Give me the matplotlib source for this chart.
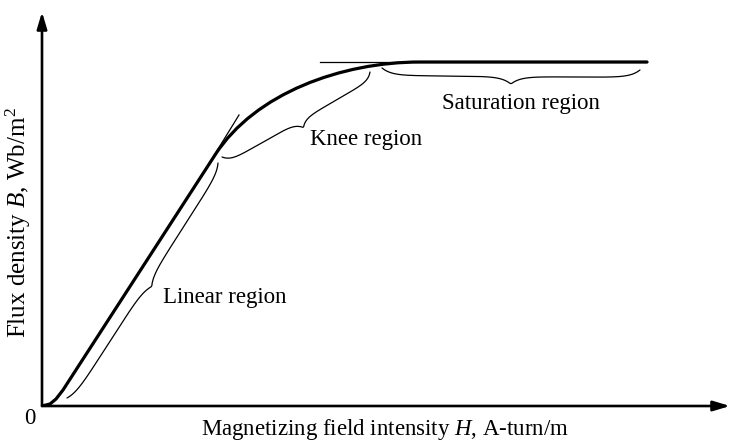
import numpy as np
import matplotlib
matplotlib.use("Agg")
import matplotlib.pyplot as plt
from matplotlib.path import Path
from matplotlib.patches import PathPatch

plt.rcParams["font.family"] = ["Liberation Serif", "DejaVu Serif"]
plt.rcParams["mathtext.fontset"] = "custom"
plt.rcParams["mathtext.rm"] = "Liberation Serif"
plt.rcParams["mathtext.it"] = "Liberation Serif:italic"

# B-H curve (arbitrary units, 1 unit ~ 1 px)
# toe + linear part
H_lin = [0, 8, 14, 21, 173]
B_lin = [0, 2, 7, 16, 251]
# knee as a cubic bezier: start, two control points, end
H_knee = [173, 213, 300, 378]
B_knee = [251, 313, 344, 344]
# saturation
H_sat = [378, 605]
B_sat = [344, 344]

# thin guide lines
tangent_H = [160, 197]
tangent_B = [231, 291]
asym_H = [278, 605]
asym_B = [344, 344]

# braces
regions = ["Linear region", "Knee region", "Saturation region"]
brace_start = [(25, 8), (180, 249), (340, 338)]
brace_end = [(176, 243), (328, 334), (598, 336)]
brace_depth = [11, 15, 15]
label_xy = [(121, 108), (268, 266), (479, 302)]
label_ha = ["left", "left", "center"]

H_MAX, B_MAX = 688, 394
FS = 16.5


def brace(ax, p0, p1, depth, k=14, lw=0.9):
    p0 = np.asarray(p0, float)
    p1 = np.asarray(p1, float)
    L = np.hypot(*(p1 - p0))
    d = (p1 - p0) / L
    n = np.array([d[1], -d[0]])
    t = np.linspace(0, 1, 200)
    u = np.where(t <= 0.5, t / 0.5, (1 - t) / 0.5)
    f = 0.5 * (1 - np.exp(-k * u)) + 0.5 * np.exp(-k * (1 - u))
    pts = p0[None, :] + (t * L)[:, None] * d[None, :] + (f * depth)[:, None] * n[None, :]
    ax.plot(pts[:, 0], pts[:, 1], color="black", lw=lw, solid_capstyle="round")


fig = plt.figure(figsize=(7.3, 4.42), dpi=100)
ax = fig.add_axes([42 / 730, 36 / 442, 688 / 730, 394 / 442])
ax.set_xlim(0, H_MAX)
ax.set_ylim(0, B_MAX)
for s in ax.spines.values():
    s.set_visible(False)
ax.set_xticks([])
ax.set_yticks([])

# axes with arrows
arrow = dict(arrowstyle="-|>,head_length=1.0,head_width=0.3", lw=1.9,
             color="black", mutation_scale=10, shrinkA=0, shrinkB=0)
ax.annotate("", xy=(0, B_MAX), xytext=(0, 0), arrowprops=arrow, annotation_clip=False)
ax.annotate("", xy=(H_MAX, 0), xytext=(0, 0), arrowprops=arrow, annotation_clip=False)

ax.plot(tangent_H, tangent_B, color="black", lw=0.9)
ax.plot(asym_H, asym_B, color="black", lw=0.9)

# main curve
verts = list(zip(H_lin, B_lin)) + list(zip(H_knee[1:], B_knee[1:])) + list(zip(H_sat[1:], B_sat[1:]))
codes = ([Path.MOVETO] + [Path.LINETO] * (len(H_lin) - 1)
         + [Path.CURVE4] * 3 + [Path.LINETO])
ax.add_patch(PathPatch(Path(verts, codes), facecolor="none", edgecolor="black",
                       lw=2.3, capstyle="round", joinstyle="round"))

for name, p0, p1, dep, xy, ha in zip(regions, brace_start, brace_end,
                                     brace_depth, label_xy, label_ha):
    brace(ax, p0, p1, dep)
    ax.text(xy[0], xy[1], name, ha=ha, va="center", fontsize=FS)

ax.text(-12, -13, "0", ha="center", va="center", fontsize=FS, clip_on=False)
fig.text(385 / 730, 1 - 430 / 442, "Magnetizing field intensity $H$, A-turn/m",
         ha="center", va="center", fontsize=FS)
fig.text(18 / 730, 1 - 223 / 442, "Flux density $B$, Wb/m$^2$", rotation=90,
         ha="center", va="center", fontsize=18)

fig.savefig("out.png", dpi=100)
plt.close(fig)
